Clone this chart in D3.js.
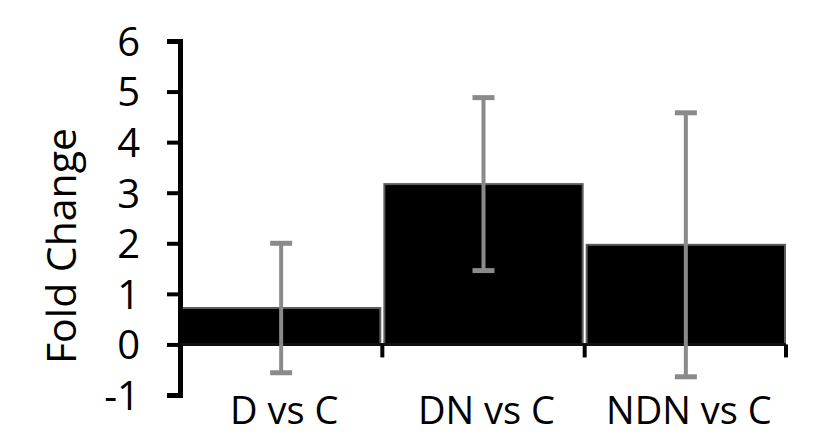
<!DOCTYPE html>
<html>
<head>
<meta charset="utf-8">
<script src="https://cdn.jsdelivr.net/npm/d3@7"></script>
<style>
  body { margin: 0; background: #fff; }
  svg text { font-family: "Open Sans", sans-serif; fill: #000; }
</style>
</head>
<body>
<div id="chart"></div>
<script>
// Values
const categories = ["D vs C", "DN vs C", "NDN vs C"];
const foldChange = [0.72, 3.17, 1.97];
const errors = [1.28, 1.71, 2.61];
const yTicks = [-1, 0, 1, 2, 3, 4, 5, 6];

const width = 816;
const height = 435;

const svg = d3.select("#chart")
    .append("svg")
    .attr("width", width)
    .attr("height", height);

// Scales
const x = d3.scaleBand()
    .domain(categories)
    .range([181, 786])
    .paddingInner(0.02)
    .paddingOuter(0.005);

const y = d3.scaleLinear()
    .domain([-1, 6])
    .range([395, 41]);

const data = categories.map((c, i) => ({ cat: c, value: foldChange[i], err: errors[i] }));

// Bars
svg.append("g")
    .selectAll("rect")
    .data(data)
    .join("rect")
    .attr("x", d => x(d.cat))
    .attr("y", d => y(Math.max(0, d.value)))
    .attr("width", x.bandwidth())
    .attr("height", d => Math.abs(y(d.value) - y(0)))
    .attr("fill", "#000")
    .attr("stroke", "#5c5c5c")
    .attr("stroke-width", 2);

// Y axis (plain hyphen for the negative label, like the original)
const yAxis = svg.append("g")
    .attr("transform", `translate(${x.range()[0] - 1},0)`)
    .call(d3.axisLeft(y).tickValues(yTicks).tickSize(13).tickPadding(27).tickFormat(d => String(d)));
yAxis.select(".domain").attr("stroke", "#000").attr("stroke-width", 5);
yAxis.selectAll(".tick line").attr("stroke", "#000").attr("stroke-width", 4);
yAxis.selectAll(".tick text").style("font-size", "40px").attr("dy", "0.36em");

// X axis line at zero with ticks at band boundaries
const xAxis = svg.append("g");
xAxis.append("line")
    .attr("x1", x.range()[0] - 1)
    .attr("x2", x.range()[1])
    .attr("y1", y(0))
    .attr("y2", y(0))
    .attr("stroke", "#111")
    .attr("stroke-width", 3);

const bounds = categories.map(c => x(c) - x.step() * x.paddingInner() / 2)
    .concat([x.range()[1]]);
xAxis.selectAll(".xtick")
    .data(bounds)
    .join("line")
    .attr("class", "xtick")
    .attr("x1", d => d)
    .attr("x2", d => d)
    .attr("y1", y(0))
    .attr("y2", y(0) + 13)
    .attr("stroke", "#000")
    .attr("stroke-width", 4);

xAxis.selectAll(".xlabel")
    .data(categories)
    .join("text")
    .attr("class", "xlabel")
    .attr("x", d => x(d) + x.bandwidth() / 2 + 3)
    .attr("y", 424)
    .attr("text-anchor", "middle")
    .style("font-size", "38px")
    .text(d => d);

// Error bars
const eb = svg.append("g")
    .selectAll("g")
    .data(data)
    .join("g")
    .attr("transform", d => `translate(${x(d.cat) + x.bandwidth() / 2},0)`);

eb.append("line")
    .attr("x1", 0).attr("x2", 0)
    .attr("y1", d => y(d.value + d.err))
    .attr("y2", d => y(d.value - d.err))
    .attr("stroke", "#8a8a8a")
    .attr("stroke-width", 4);

eb.selectAll(".cap")
    .data(d => [d.value + d.err, d.value - d.err])
    .join("line")
    .attr("class", "cap")
    .attr("x1", -11).attr("x2", 11)
    .attr("y1", v => y(v))
    .attr("y2", v => y(v))
    .attr("stroke", "#8a8a8a")
    .attr("stroke-width", 5);

// Y axis title
svg.append("text")
    .attr("transform", `translate(76,246) rotate(-90)`)
    .attr("text-anchor", "middle")
    .style("font-size", "41px")
    .text("Fold Change");
</script>
</body>
</html>
